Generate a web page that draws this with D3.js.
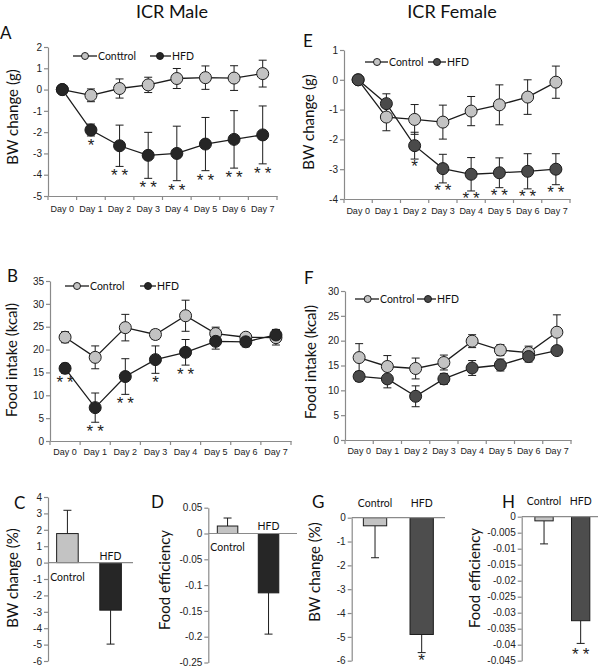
<!DOCTYPE html>
<html>
<head>
<meta charset="utf-8">
<script src="https://cdn.jsdelivr.net/npm/d3@7"></script>
<style>
body { margin: 0; background: #fff; }
svg { font-family: Lato, "Open Sans", sans-serif; }
.axis .domain, .axis line { stroke: #8a8a8a; stroke-width: 1.2; }
.axis text { fill: #222; font-size: 10px; }
.axis.days text { font-size: 9px; }
</style>
</head>
<body>
<div id="fig"></div>
<script>
"use strict";

var days = ["Day 0", "Day 1", "Day 2", "Day 3", "Day 4", "Day 5", "Day 6", "Day 7"];
var groups = ["Control", "HFD"];

// A: male body weight change (g)
var maleBwCtrl = [0, -0.27, 0.05, 0.22, 0.52, 0.56, 0.54, 0.75];
var maleBwCtrlErr = [0, 0.3, 0.45, 0.36, 0.47, 0.55, 0.58, 0.63];
var maleBwHfd = [0, -1.9, -2.64, -3.09, -3.0, -2.56, -2.34, -2.13];
var maleBwHfdErr = [0, 0.28, 0.97, 1.08, 1.28, 1.25, 1.35, 1.36];
var maleBwStars = ["", "*", "**", "**", "**", "**", "**", "**"];

// E: female body weight change (g)
var femBwCtrl = [0, -1.25, -1.33, -1.42, -1.05, -0.84, -0.58, -0.08];
var femBwCtrlErr = [0, 0.46, 0.5, 0.57, 0.49, 0.67, 0.58, 0.54];
var femBwHfd = [0, -0.8, -2.21, -2.98, -3.17, -3.12, -3.07, -3.0];
var femBwHfdErr = [0, 0.33, 0.45, 0.48, 0.56, 0.5, 0.59, 0.52];
var femBwStars = ["", "", "*", "**", "**", "**", "**", "**"];

// B: male food intake (kcal)
var maleFiCtrl = [22.7, 18.3, 24.8, 23.3, 27.4, 23.5, 22.7, 22.6];
var maleFiCtrlErr = [1.2, 2.5, 2.9, 1.0, 3.4, 1.4, 0.8, 1.6];
var maleFiHfd = [15.9, 7.3, 14.1, 17.8, 19.4, 21.8, 21.7, 23.2];
var maleFiHfdErr = [1.1, 3.2, 3.9, 3.0, 2.8, 1.7, 1.1, 1.2];
var maleFiStars = ["**", "**", "**", "*", "**", "", "", ""];

// F: female food intake (kcal)
var femFiCtrl = [16.6, 14.8, 14.4, 15.6, 19.9, 18.1, 17.6, 21.7];
var femFiCtrlErr = [2.8, 2.2, 2.1, 1.5, 1.3, 1.1, 1.3, 3.5];
var femFiHfd = [12.8, 12.3, 8.8, 12.3, 14.5, 15.1, 16.8, 18.0];
var femFiHfdErr = [1.0, 1.8, 2.1, 1.1, 1.5, 1.2, 1.1, 0.6];
var femFiStars = ["", "", "", "", "", "", "", ""];

// C, D, G, H: summary bars
var maleBwPct = [1.77, -2.9];
var maleBwPctErr = [1.42, 2.07];
var maleBwPctStars = ["", ""];
var maleFe = [0.0145, -0.115];
var maleFeErr = [0.0155, 0.08];
var maleFeStars = ["", ""];
var femBwPct = [-0.34, -4.9];
var femBwPctErr = [1.34, 0.76];
var femBwPctStars = ["", "*"];
var femFe = [-0.0013, -0.0325];
var femFeErr = [0.0072, 0.0071];
var femFeStars = ["", "**"];

var ctrlFill = "#c3c3c3";
var edge = "#1c1c1c";
var starFont = "Liberation Sans, Arial, sans-serif";

var width = 600, height = 668;
var svg = d3.select("#fig").append("svg")
  .attr("width", width)
  .attr("height", height);

function tickList(lo, hi, step) {
  return d3.range(Math.round((hi - lo) / step) + 1).map(function(i) { return +(lo + i * step).toFixed(6); });
}
function fmt(d) { return String(+d.toFixed(6)); }

function text(x, y, s, size, anchor) {
  return svg.append("text").attr("x", x).attr("y", y)
    .attr("font-size", size).attr("text-anchor", anchor || "start")
    .attr("fill", "#111").text(s);
}

function yTitle(x, y, s) {
  svg.append("text")
    .attr("transform", "translate(" + x + "," + y + ") rotate(-90)")
    .attr("text-anchor", "middle").attr("dy", "0.35em")
    .attr("font-size", 15).attr("fill", "#111").text(s);
}

function errBar(g, cx, y1, y2) {
  g.append("line").attr("x1", cx).attr("x2", cx).attr("y1", y1).attr("y2", y2)
    .attr("stroke", edge).attr("stroke-width", 1);
  g.append("line").attr("x1", cx - 4).attr("x2", cx + 4).attr("y1", y2).attr("y2", y2)
    .attr("stroke", edge).attr("stroke-width", 1);
}

function stars(sel) {
  return sel.attr("text-anchor", "middle").attr("font-family", starFont)
    .attr("font-size", 17).attr("letter-spacing", 4).attr("fill", "#222");
}

function lineChart(p) {
  var x = d3.scaleBand().domain(days).range([p.left, p.right]);
  var y = d3.scaleLinear().domain(p.domain).range([p.bottom, p.top]);
  var cx = function(i) { return x(days[i]) + x.bandwidth() / 2; };

  svg.append("g").attr("class", "axis")
    .attr("transform", "translate(" + p.left + ",0)")
    .call(d3.axisLeft(y).tickValues(tickList(p.domain[0], p.domain[1], p.step))
      .tickFormat(fmt).tickSize(4).tickSizeOuter(0).tickPadding(2));

  var xa = svg.append("g").attr("class", "axis days")
    .attr("transform", "translate(0," + p.bottom + ")")
    .call(d3.axisBottom(x).tickSize(0).tickPadding(p.labelPad));
  xa.selectAll(".bound").data(days.concat("end")).enter().append("line")
    .attr("x1", function(d) { return d === "end" ? p.right : x(d); })
    .attr("x2", function(d) { return d === "end" ? p.right : x(d); })
    .attr("y1", 0).attr("y2", 4);

  var g = svg.append("g");
  p.series.forEach(function(s) {
    s.values.forEach(function(v, i) {
      if (s.err[i] > 0) {
        errBar(g, cx(i), y(v), y(v + s.err[i]));
        errBar(g, cx(i), y(v), y(v - s.err[i]));
      }
    });
  });
  p.series.forEach(function(s) {
    g.append("path")
      .attr("d", d3.line().x(function(d, i) { return cx(i); }).y(function(d) { return y(d); })(s.values))
      .attr("fill", "none").attr("stroke", edge).attr("stroke-width", 1.3);
  });
  p.series.forEach(function(s) {
    g.selectAll(null).data(s.values).enter().append("circle")
      .attr("cx", function(d, i) { return cx(i); })
      .attr("cy", function(d) { return y(d); })
      .attr("r", 6).attr("fill", s.fill).attr("stroke", edge).attr("stroke-width", 1);
  });

  var h = p.series[1];
  stars(g.selectAll(null).data(p.stars).enter().append("text")
    .attr("x", function(d, i) { return cx(i) + 2; })
    .attr("y", function(d, i) { return y(h.values[i] - h.err[i]) + p.starGap + 9; }))
    .text(function(d) { return d; });

  // legend
  p.legend.forEach(function(l, k) {
    var s = p.series[k];
    svg.append("line").attr("x1", l[0]).attr("x2", l[2]).attr("y1", p.legendY).attr("y2", p.legendY)
      .attr("stroke", edge).attr("stroke-width", 1.3);
    svg.append("circle").attr("cx", l[1]).attr("cy", p.legendY).attr("r", 3.5)
      .attr("fill", s.fill).attr("stroke", edge).attr("stroke-width", 1);
    text(l[2] + 1, p.legendY + 3.5, s.name, 10.5);
  });
}

function barChart(p) {
  var x = d3.scaleBand().domain(groups).range(p.band).paddingInner(0.5).paddingOuter(p.outer);
  var y = d3.scaleLinear().domain(p.domain).range([p.bottom, p.top]);

  svg.append("g").attr("class", "axis")
    .attr("transform", "translate(" + p.left + ",0)")
    .call(d3.axisLeft(y).tickValues(tickList(p.domain[0], p.domain[1], p.step))
      .tickFormat(fmt).tickSize(4).tickSizeOuter(0).tickPadding(2));

  var g = svg.append("g");
  p.values.forEach(function(v, i) {
    var c = x(groups[i]) + x.bandwidth() / 2;
    var dir = v >= 0 ? 1 : -1;
    errBar(g, c, y(v), y(v + dir * p.err[i]));
    g.append("rect")
      .attr("x", x(groups[i])).attr("width", x.bandwidth())
      .attr("y", y(Math.max(0, v))).attr("height", Math.abs(y(v) - y(0)))
      .attr("fill", p.fills[i]).attr("stroke", edge).attr("stroke-width", 1);
    if (p.stars[i]) {
      stars(g.append("text").attr("x", c + 2).attr("y", y(v - p.err[i]) + p.starGap + 9))
        .text(p.stars[i]);
    }
    text(c, y(0) + p.labelDy[i], groups[i], 10.5, "middle").attr("dy", "0.35em");
  });
  g.append("line").attr("x1", p.left).attr("x2", p.zeroRight)
    .attr("y1", y(0)).attr("y2", y(0)).attr("stroke", "#8a8a8a").attr("stroke-width", 1.2);
}

// titles and panel letters
text(172, 18, "ICR Male", 18, "middle");
text(452, 18, "ICR Female", 18, "middle");
[["A", 0, 39], ["E", 303, 47], ["B", 7, 282], ["F", 304, 284],
 ["C", 14, 509], ["D", 151, 508], ["G", 312, 508], ["H", 502, 508]].forEach(function(l) {
  text(l[1], l[2], l[0], 17);
});

yTitle(13, 117, "BW change (g)");
yTitle(309, 122, "BW change (g)");
yTitle(12, 360, "Food intake (kcal)");
yTitle(311, 362, "Food intake (kcal)");
yTitle(13, 578, "BW change (%)");
yTitle(165, 580, "Food efficiency");
yTitle(315, 572, "BW change (%)");
yTitle(475, 578, "Food efficiency");

lineChart({
  left: 48, right: 277, top: 47, bottom: 196, domain: [-5, 2], step: 1, labelPad: 10,
  series: [
    { name: "Conttrol", values: maleBwCtrl, err: maleBwCtrlErr, fill: ctrlFill },
    { name: "HFD", values: maleBwHfd, err: maleBwHfdErr, fill: "#262626" }
  ],
  stars: maleBwStars, starGap: 6,
  legendY: 56, legend: [[73, 85, 97], [150, 160, 171]]
});

lineChart({
  left: 344, right: 570, top: 50, bottom: 199, domain: [-4, 1], step: 1, labelPad: 9,
  series: [
    { name: "Control", values: femBwCtrl, err: femBwCtrlErr, fill: ctrlFill },
    { name: "HFD", values: femBwHfd, err: femBwHfdErr, fill: "#4a4a4a" }
  ],
  stars: femBwStars, starGap: 4,
  legendY: 62, legend: [[365, 377, 388], [428, 437, 446]]
});

lineChart({
  left: 50, right: 291, top: 281, bottom: 441, domain: [0, 35], step: 5, labelPad: 8,
  series: [
    { name: "Control", values: maleFiCtrl, err: maleFiCtrlErr, fill: ctrlFill },
    { name: "HFD", values: maleFiHfd, err: maleFiHfdErr, fill: "#262626" }
  ],
  stars: maleFiStars, starGap: 6,
  legendY: 286, legend: [[65, 77, 89], [140, 148, 156]]
});

lineChart({
  left: 345, right: 571, top: 291, bottom: 440, domain: [0, 30], step: 5, labelPad: 8,
  series: [
    { name: "Control", values: femFiCtrl, err: femFiCtrlErr, fill: ctrlFill },
    { name: "HFD", values: femFiHfd, err: femFiHfdErr, fill: "#4a4a4a" }
  ],
  stars: femFiStars, starGap: 6,
  legendY: 299, legend: [[355, 367.7, 379], [417, 428, 436]]
});

barChart({
  left: 48, zeroRight: 133, band: [48, 130], outer: 0.2, top: 497, bottom: 661, domain: [-6, 4], step: 1,
  values: maleBwPct, err: maleBwPctErr, stars: maleBwPctStars, starGap: 6,
  fills: [ctrlFill, "#262626"], labelDy: [15, -6]
});

barChart({
  left: 208.3, zeroRight: 297, band: [208.3, 287.8], outer: 0.22, top: 507.7, bottom: 662.5, domain: [-0.25, 0.05], step: 0.05,
  values: maleFe, err: maleFeErr, stars: maleFeStars, starGap: 6,
  fills: [ctrlFill, "#262626"], labelDy: [14, -7]
});

barChart({
  left: 351.7, zeroRight: 445, band: [351.7, 445], outer: 0.25, top: 517.7, bottom: 660.7, domain: [-6, 0], step: 1,
  values: femBwPct, err: femBwPctErr, stars: femBwPctStars, starGap: 4,
  fills: [ctrlFill, "#4d4d4d"], labelDy: [-14.5, -14.5]
});

barChart({
  left: 521.7, zeroRight: 598, band: [521.7, 603], outer: 0.36, top: 516.7, bottom: 660.7, domain: [-0.045, 0], step: 0.005,
  values: femFe, err: femFeErr, stars: femFeStars, starGap: 8,
  fills: [ctrlFill, "#4d4d4d"], labelDy: [-15, -15]
});
</script>
</body>
</html>
